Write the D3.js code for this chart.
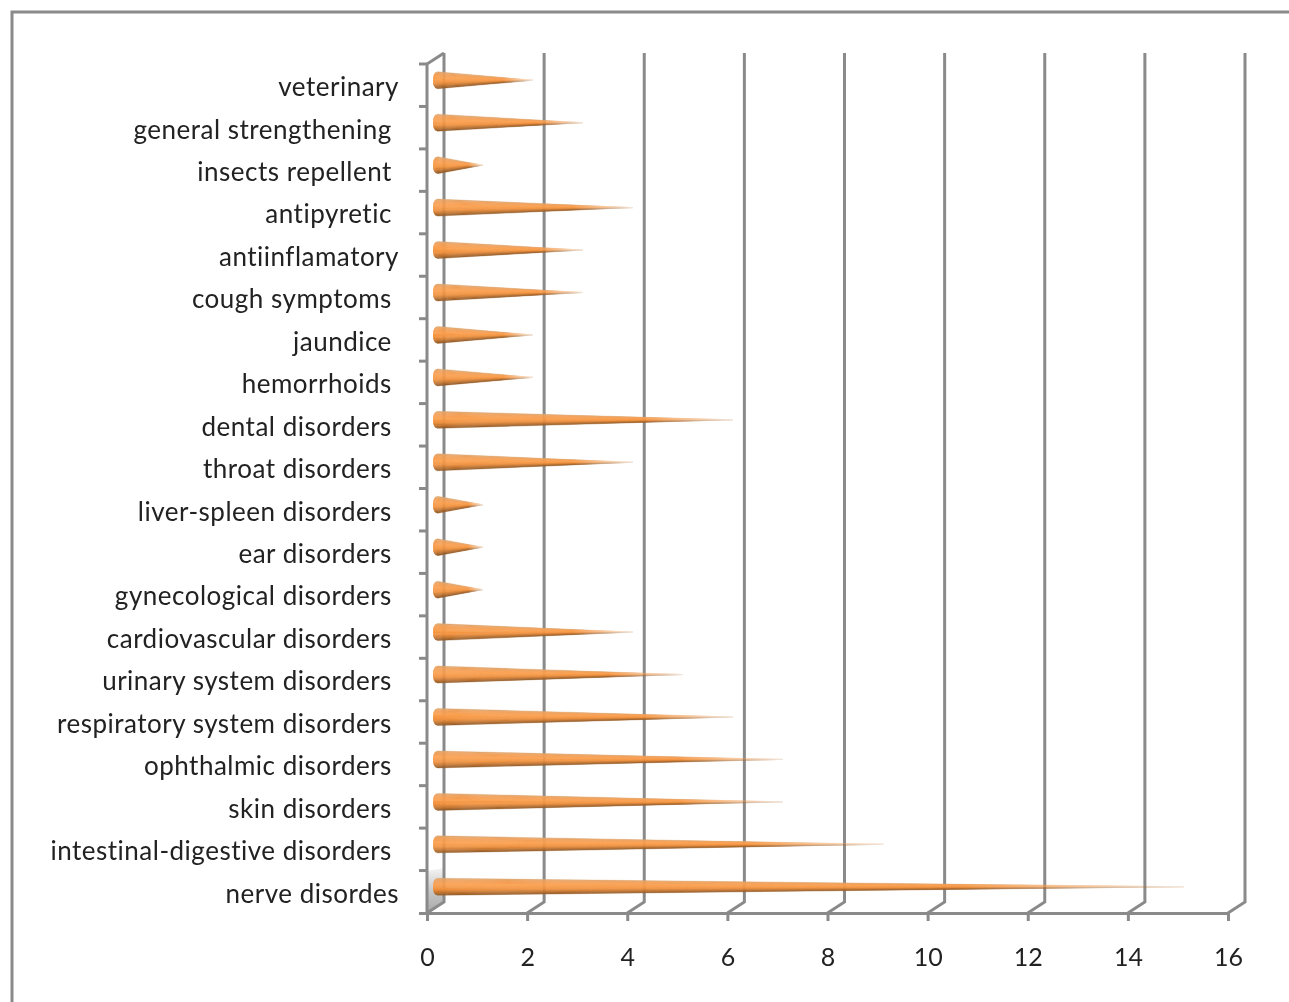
<!doctype html>
<html>
  <head>
    <meta charset="utf-8">
    <script src="https://d3js.org/d3.v7.min.js"></script>
    <style>
      html, body { margin: 0; padding: 0; background: #fff; }
      svg { display: block; filter: blur(0.45px); }
      text { font-family: Lato, "Open Sans", sans-serif; fill: #222; }
      .cat text { font-size: 26px; letter-spacing: 0.5px; white-space: pre; }
      .val text { font-size: 25px; }
    </style>
  </head>
  <body>
    <svg width="1289" height="1002"></svg>

    <script type="text/javascript">
        // top to bottom, trailing spaces are in the labels of the original chart
        var categories = ["veterinary", "general strengthening ", "insects repellent ", "antipyretic ",
            "antiinflamatory", "cough symptoms ", "jaundice ", "hemorrhoids ", "dental disorders ",
            "throat disorders ", "liver-spleen disorders ", "ear disorders ", "gynecological disorders ",
            "cardiovascular disorders ", "urinary system disorders ", "respiratory system disorders ",
            "ophthalmic disorders ", "skin disorders ", "intestinal-digestive disorders ", "nerve disordes"];
        var values = [2, 3, 1, 4, 3, 3, 2, 2, 6, 4, 1, 1, 1, 4, 5, 6, 7, 7, 9, 15];
        var xTicks = [0, 2, 4, 6, 8, 10, 12, 14, 16];

        var gray = "#8a8a8a";
        var depthX = 17, depthY = 11;   // fake 3d offset of the back wall
        var coneR = 8.5, capR = 4.5, stripes = 16;

        var svg = d3.select("svg");

        var x = d3.scaleLinear().domain([0, 16]).range([427, 1228]);
        var y = d3.scaleBand().domain(categories).range([64, 913]);
        var shade = d3.scaleLinear()
            .domain([0, 0.12, 0.4, 0.66, 0.86, 1])
            .range(["#d9a878", "#f0a05a", "#fb9f4e", "#f0923f", "#c0732f", "#8f5a2a"]);

        var defs = svg.append("defs");

        var wall = defs.append("linearGradient").attr("id", "wall")
            .attr("x1", 0).attr("x2", 0).attr("y1", 1).attr("y2", 0);
        wall.append("stop").attr("offset", "0%").attr("stop-color", "#a8a8a8");
        wall.append("stop").attr("offset", "45%").attr("stop-color", "#c4c4c4");
        wall.append("stop").attr("offset", "100%").attr("stop-color", "#f4f4f4");

        var fade = defs.append("linearGradient").attr("id", "fade");
        fade.append("stop").attr("offset", "0%").attr("stop-color", "#fff");
        fade.append("stop").attr("offset", "70%").attr("stop-color", "#fff");
        fade.append("stop").attr("offset", "100%").attr("stop-color", "#fff").attr("stop-opacity", 0.15);
        defs.append("mask").attr("id", "tipFade")
            .attr("maskContentUnits", "objectBoundingBox")
            .attr("x", 0).attr("y", -0.1).attr("width", 1).attr("height", 1.2)
            .append("rect").attr("y", -0.1).attr("width", 1).attr("height", 1.2).attr("fill", "url(#fade)");

        // frame of the chart area, runs off the picture right and bottom
        svg.append("path")
            .attr("d", "M12,1002V12H1289")
            .attr("fill", "none").attr("stroke", gray).attr("stroke-width", 3);

        var y0 = y.range()[0], y1 = y.range()[1];

        // grey shadow on the wall behind the lowest cone
        svg.append("path")
            .attr("d", d3.line()([[x(0), y1], [x(0) + depthX, y1 - depthY],
                [x(0) + depthX, y1 - depthY - 34], [x(0), y1 - 42]]))
            .attr("fill", "url(#wall)");

        // back wall gridlines with their foot
        svg.append("g").selectAll("path").data(xTicks).join("path")
            .attr("d", d => d3.line()([[x(d), y1], [x(d) + depthX, y1 - depthY], [x(d) + depthX, y0 - depthY]]))
            .attr("fill", "none").attr("stroke", gray).attr("stroke-width", 3);

        // left front edge and its top corner
        svg.append("path")
            .attr("d", d3.line()([[x(0) + depthX, y0 - depthY], [x(0), y0], [x(0), y1]]))
            .attr("fill", "none").attr("stroke", gray).attr("stroke-width", 3);

        // category ticks sit between the bands
        svg.append("g").selectAll("line").data(categories).join("line")
            .attr("x1", x(0) - 8).attr("x2", x(0))
            .attr("y1", d => y(d)).attr("y2", d => y(d))
            .attr("stroke", gray).attr("stroke-width", 3);

        var xAxis = svg.append("g").attr("class", "val")
            .attr("transform", `translate(0,${y1})`)
            .call(d3.axisBottom(x).tickValues(xTicks).tickFormat(d3.format("d")).tickSize(8).tickSizeOuter(8).tickPadding(27));
        xAxis.selectAll("line, path").attr("stroke", gray).attr("stroke-width", 3);
        xAxis.select("path").attr("d", `M${x(0) - 8},0.5H${x(16)}`);

        var catAxis = svg.append("g").attr("class", "cat")
            .attr("transform", "translate(399,2.5)")
            .call(d3.axisLeft(y).tickSize(0).tickPadding(0));
        catAxis.select("path").remove();

        // each cone is a fan of thin wedges running to the tip
        var rows = categories.map((c, i) => ({ name: c, value: values[i] }));
        var cones = svg.append("g").selectAll("g").data(rows).join("g")
            .attr("transform", d => `translate(${x(0) + 6 + capR},${y(d.name) + y.bandwidth() / 2 - 5})`)
            .attr("mask", "url(#tipFade)");

        function capX(t) {
            var v = 2 * t - 1;
            return -capR * Math.sqrt(1 - v * v);
        }

        cones.selectAll("path")
            .data(d => d3.range(stripes).map(i => ({ i: i, tip: x(d.value) - x(0) - capR })))
            .join("path")
            .attr("d", d => {
                var a = d.i / stripes, b = (d.i + 1) / stripes;
                return d3.line()([[capX(a), -coneR + 2 * coneR * a], [capX(b), -coneR + 2 * coneR * b], [d.tip, 0]]) + "Z";
            })
            .attr("fill", d => shade((d.i + 0.5) / stripes))
            .attr("stroke", d => shade((d.i + 0.5) / stripes))
            .attr("stroke-width", 0.4);
    </script>
  </body>
</html>
